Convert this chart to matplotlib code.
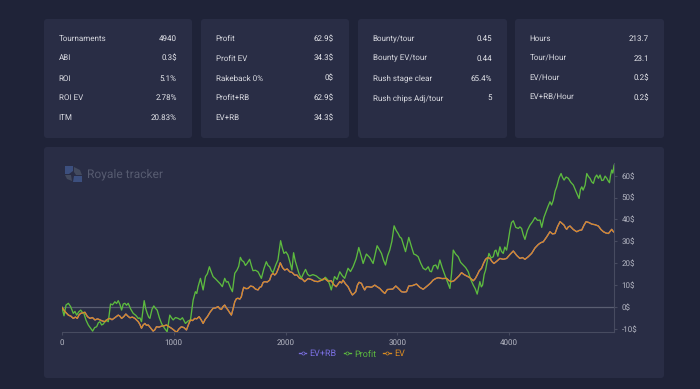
import matplotlib
matplotlib.use('Agg')
import matplotlib.pyplot as plt
from matplotlib.patches import FancyBboxPatch, Polygon

plt.rcParams['font.family'] = ['Roboto', 'DejaVu Sans']
plt.rcParams['text.hinting'] = 'no_hinting'
plt.rcParams['text.hinting_factor'] = 1

W, H = 700, 389

# stat cards
card_rows = [
    [("Tournaments", "4940"), ("ABI", "0.3$"), ("ROI", "5.1%"), ("ROI EV", "2.78%"), ("ITM", "20.83%")],
    [("Profit", "62.9$"), ("Profit EV", "34.3$"), ("Rakeback 0%", "0$"), ("Profit+RB", "62.9$"), ("EV+RB", "34.3$")],
    [("Bounty/tour", "0.45"), ("Bounty EV/tour", "0.44"), ("Rush stage clear", "65.4%"), ("Rush chips Adj/tour", "5")],
    [("Hours", "213.7"), ("Tour/Hour", "23.1"), ("EV/Hour", "0.2$"), ("EV+RB/Hour", "0.2$")],
]

# curves (tournaments, dollars)
profit_x = [0, 18, 36, 57, 77, 101, 116, 131, 150, 167, 182, 196, 215, 235, 255, 274, 292, 310, 325, 339, 354, 369,
            392, 414, 434, 452, 473, 488, 503, 518, 533, 548, 562, 577, 592, 615, 637, 660, 682, 697, 711, 735, 748,
            762, 775, 786, 805, 821, 836, 851, 870, 890, 915, 940, 964, 980, 994, 1015, 1039, 1058, 1077, 1090, 1104,
            1127, 1149, 1173, 1193, 1205, 1217, 1238, 1250, 1262, 1283, 1300, 1318, 1335, 1351, 1374, 1396, 1415,
            1434, 1455, 1470, 1485, 1505, 1524, 1545, 1565, 1580, 1595, 1610, 1625, 1640, 1655, 1678, 1693, 1708,
            1730, 1753, 1768, 1783, 1805, 1827, 1842, 1857, 1872, 1887, 1910, 1931, 1955, 1970, 1985, 2003, 2021,
            2040, 2056, 2071, 2086, 2101, 2120, 2140, 2160, 2178, 2196, 2214, 2244, 2274, 2303, 2333, 2355, 2378,
            2393, 2408, 2437, 2460, 2484, 2505, 2528, 2558, 2580, 2603, 2630, 2654, 2675, 2693, 2722, 2752, 2782,
            2800, 2818, 2838, 2857, 2875, 2893, 2912, 2931, 2950, 2970, 2988, 3006, 3021, 3036, 3055, 3072, 3101,
            3125, 3146, 3165, 3185, 3208, 3230, 3252, 3275, 3290, 3304, 3322, 3343, 3360, 3379, 3400, 3424, 3445,
            3469, 3484, 3499, 3520, 3543, 3565, 3588, 3610, 3633, 3655, 3678, 3695, 3713, 3737, 3750, 3761, 3775,
            3788, 3803, 3818, 3838, 3857, 3870, 3881, 3898, 3916, 3930, 3946, 3960, 3976, 3990, 4006, 4020, 4036,
            4058, 4081, 4095, 4110, 4125, 4140, 4162, 4185, 4208, 4230, 4252, 4275, 4290, 4310, 4328, 4345, 4364,
            4378, 4394, 4410, 4424, 4445, 4463, 4476, 4490, 4508, 4528, 4550, 4573, 4600, 4624, 4636, 4648, 4660,
            4678, 4693, 4708, 4722, 4737, 4752, 4767, 4782, 4797, 4812, 4827, 4842, 4857, 4872, 4885, 4896, 4905,
            4916, 4926, 4937]
profit_y = [-0.2, -4, 0.9, 1.7, 0.2, -2.9, -2, -3.7, -2.2, -1.4, -2.4, -2.9, -6, -8.2, -9.6, -11, -9.4, -9, -7.2, -6.7, -8.2, -7.8,
            -6, -6.7, 1.4, 1, 2.4, 1.6, 2.9, 1.2, -1.4, 1.4, 1.7, 0.8, 1.7, -1, -2.9, -3.8, -5.2, -5, -6.7, 2.9, -0.6,
            -2.9, -4.6, -5.2, -1, 0.5, -0.6, -1.4, -4.8, -7.5, -9.6, -11.3, -3.7, -5, -5.9, -4.8, -5.2, -5.8, -4.9, -6.2, -7.5,
            -6.4, -5.9, 3.2, 7, 6.2, 9.3, 13.1, 10.4, 7.8, 13.9, 15.2, 18.4, 16, 13.9, 12.8, 11.6, 10.6,
            9.3, 13.1, 11.4, 11.6, 9, 7, 15.4, 16.9, 18.6, 22.7, 21.2, 20.7, 19, 19.9, 21.8, 19, 16.6,
            16.8, 16.1, 14.6, 13.1, 17.4, 20.7, 19, 18.4, 16.6, 15.7, 19, 21.5, 30.3, 27, 24.5, 25.2, 23.7,
            20.2, 16.9, 24.8, 21, 18.4, 15.2, 13.1, 15.4, 17.2, 15, 14.2, 14.8, 14.2, 13, 12.3, 13.6, 12.3,
            10.4, 7.8, 13.9, 12.6, 16.1, 14.4, 13.1, 17.7, 16.2, 18.4, 22, 27.2, 23.4, 19.9, 24.2, 22.6, 19.9,
            24, 28, 26.2, 24.5, 21.4, 19.2, 23.4, 26, 30, 37.1, 35, 33.6, 32, 31.4, 28.2, 25.3, 31.8,
            27.6, 24.2, 23.8, 23, 20, 17.7, 17, 18.4, 16.4, 16.1, 18.8, 19.2, 17.4, 21.5, 18, 14.6, 11.8,
            8.5, 15.4, 26, 24.2, 23, 20.4, 19.2, 18, 16.1, 12.6, 10, 8.4, 5.9, 11.6, 9.2, 10, 14.8,
            16.9, 21, 24.5, 22.4, 23, 25.6, 26, 23.2, 27.5, 25.4, 24.5, 27.4, 26, 30, 35.2, 38.6, 39.4,
            36.4, 35.9, 36.6, 35.9, 33, 30.9, 35, 37.4, 39, 40.9, 39.6, 39.7, 36.4, 41, 43.5, 45.8, 48.1,
            46.6, 48.9, 53, 54.9, 59, 61, 59.2, 58, 59.4, 58.8, 57, 55.7, 52.4, 49.6, 53.6, 54.9, 53.4,
            55.7, 61, 59.6, 58.8, 57.2, 56.5, 59.2, 60.3, 58.8, 60.3, 57.8, 58, 59.8, 58.8, 57.6, 56.8, 60,
            62.6, 61.2, 64.8]

ev_x = [0, 27, 57, 80, 101, 120, 137, 152, 167, 205, 228, 250, 272, 295, 318, 339, 362, 384, 408, 429, 447, 464, 484,
        503, 518, 533, 552, 571, 590, 607, 630, 652, 668, 682, 697, 711, 726, 741, 756, 771, 793, 815, 830, 845, 868,
        890, 912, 934, 957, 979, 1002, 1024, 1046, 1068, 1090, 1113, 1131, 1149, 1168, 1187, 1205, 1226, 1244, 1262,
        1281, 1300, 1326, 1351, 1374, 1396, 1411, 1426, 1440, 1455, 1470, 1485, 1500, 1515, 1530, 1545, 1560, 1574,
        1590, 1604, 1614, 1625, 1645, 1664, 1686, 1708, 1730, 1753, 1768, 1783, 1798, 1812, 1835, 1857, 1872, 1887,
        1902, 1917, 1935, 1952, 1972, 1991, 2014, 2036, 2058, 2080, 2102, 2125, 2148, 2170, 2200, 2229, 2259, 2289,
        2318, 2348, 2378, 2408, 2430, 2452, 2484, 2500, 2513, 2535, 2558, 2578, 2597, 2612, 2627, 2642, 2657, 2678,
        2692, 2707, 2722, 2737, 2767, 2797, 2820, 2842, 2865, 2887, 2910, 2931, 2958, 2985, 3010, 3036, 3058, 3081,
        3101, 3135, 3170, 3200, 3230, 3252, 3275, 3297, 3319, 3342, 3364, 3400, 3439, 3462, 3484, 3506, 3528, 3550,
        3573, 3596, 3618, 3648, 3678, 3696, 3713, 3732, 3752, 3770, 3788, 3807, 3827, 3845, 3863, 3890, 3916, 3946,
        3976, 4006, 4036, 4066, 4095, 4118, 4140, 4170, 4200, 4230, 4260, 4282, 4304, 4334, 4364, 4386, 4409, 4432,
        4454, 4472, 4490, 4502, 4513, 4528, 4543, 4573, 4603, 4626, 4648, 4668, 4687, 4712, 4737, 4767, 4797, 4820,
        4842, 4865, 4887, 4902, 4916, 4928, 4940]
ev_y = [-0.2, -2.1, -3.7, -4.2, -5.2, -4.6, -5.2, -3.6, -2.9, -2.4, -4.4, -5.2, -4.8, -5.9, -5.4, -5.9, -6.4, -6.7, -5.6, -5.2, -5.8, -5.2, -4.4,
        -3.7, -4.2, -5.2, -4.4, -3.2, -4.2, -4.9, -4.6, -5.2, -6, -6.7, -8, -9.7, -8.2, -7.5, -8.4, -8.2, -9.6, -11, -10.4, -9, -9.2,
        -8.7, -8.6, -8.2, -9, -9.7, -10.6, -11.6, -10, -9, -9.4, -10.5, -8, -5.9, -6.2, -5.2, -5.4, -4.4, -5.8, -7.5,
        -5.6, -4.4, -2.2, -0.6, -0.4, 0.2, -0.8, -1.1, 0.2, 0.9, -0.4, -1.4, -2.6, -3.7, -0.8, 2.4, 3.8, 4,
        3.6, 4.7, 7, 9, 8.4, 8.5, 9.6, 9.3, 8.2, 7.8, 9, 9.3, 11.2, 11.6, 11.4, 12.3, 14.6, 15.4,
        14.6, 15.4, 17.6, 20.2, 18, 16.9, 17.4, 16.1, 15.8, 14.6, 14.6, 13.1, 12.8, 11.6, 13, 12.6, 11.8, 11.6,
        12.2, 13.1, 11.8, 12, 10.2, 9.3, 11.6, 11, 12.3, 10.6, 9.3, 7.2, 5.5, 6.2, 7, 10, 11.3, 10.8,
        9.2, 7.8, 9.2, 9.3, 9, 10, 9.2, 8.5, 7.2, 6.2, 8, 8.1, 8.2, 9.6, 8.4, 7, 6.8, 7,
        9.6, 9.8, 10.5, 9, 8.1, 9, 10, 11, 12.3, 13, 13.4, 13, 13.1, 12, 11.6, 12, 13.1, 14.2,
        15.7, 14.8, 14.2, 13.4, 12, 13, 14.6, 16.6, 17.7, 20, 21.8, 22.6, 22.2, 20.8, 19.9, 21, 22.2, 21.8,
        22.2, 24, 25.6, 23.6, 22.2, 22.6, 21.8, 23, 24.5, 27, 28.6, 29.4, 29.8, 32, 34.4, 33.4, 33.6, 36.8,
        39, 38.2, 37.4, 36.2, 35.5, 36.6, 37, 35.4, 34.4, 35, 35.2, 37.4, 39, 38.6, 37.9, 37.6, 37, 35.4,
        34.4, 33.8, 33.6, 34.6, 35.5, 34.6, 34.1]

x_ticks = [0, 1000, 2000, 3000, 4000]
y_ticks = [-10, 0, 10, 20, 30, 40, 50, 60]

BG = '#1f2338'
CARD = '#292d45'
GRID = '#474b60'
TICK_TEXT = '#b6b8c4'
GREEN = '#5dbb3f'
ORANGE = '#d98b22'
PURPLE = '#7a6fe0'

fig = plt.figure(figsize=(W / 100, H / 100), dpi=100, facecolor=BG)

# full figure axes in pixel coordinates for cards and text
bg = fig.add_axes([0, 0, 1, 1])
bg.set_xlim(0, W)
bg.set_ylim(H, 0)
bg.axis('off')


def card(x0, y0, x1, y1):
    bg.add_patch(FancyBboxPatch((x0 + 3, y0 + 3), x1 - x0 - 6, y1 - y0 - 6,
                                boxstyle='round,pad=3,rounding_size=3', fc=CARD, ec='none'))


card_left = [44, 201, 358, 515]
card_right = [192, 349, 507, 664]
row_y = [38.7, 58.3, 78.3, 97.7, 117.7]

for rows, left, right in zip(card_rows, card_left, card_right):
    card(left, 19, right, 138)
    for (name, val), y in zip(rows, row_y):
        bg.text(left + 14.7, y, name, color='#d8d9e0', fontsize=5.5, va='center', ha='left')
        bg.text(right - 15.2, y, val, color='#e6e7ec', fontsize=6.0, va='center', ha='right')

card(44, 147, 664, 378)

# logo + name, faded
for pts, col in [([(65, 166), (73, 166), (73, 171), (69, 174), (65, 174)], '#3c4f7e'),
                 ([(74, 167), (80, 170), (82, 175), (76, 175), (74, 172)], '#434a5e'),
                 ([(74, 176), (82, 176), (82, 182), (73, 182)], '#3c4f7e'),
                 ([(65, 175), (71, 175), (72, 181), (67, 179)], '#434a5e')]:
    bg.add_patch(Polygon(pts, closed=True, fc=col, ec='none'))
bg.text(87, 174, "Royale tracker", color='#565b70', fontsize=8.9, va='center', ha='left')

# main chart
ax_left, ax_right, ax_top, ax_bottom = 62, 614.4, 163, 332.3
ax = fig.add_axes([ax_left / W, 1 - ax_bottom / H, (ax_right - ax_left) / W, (ax_bottom - ax_top) / H])
ax.patch.set_alpha(0)
ax.set_xlim(0, 4940)
ax.set_ylim(-11.55, 65.8)

ax.axhline(0, color='#5a5e72', lw=0.9, zorder=1)
line_style = dict(lw=0.95, marker='o', ms=2.2, mew=0.5, mfc=CARD, solid_joinstyle='round')
ax.plot(ev_x, ev_y, color=PURPLE, markevery=[], label='EV+RB', zorder=2, **line_style)
ax.plot(profit_x, profit_y, color=GREEN, markevery=[], label='Profit', zorder=3, **line_style)
ax.plot(ev_x, ev_y, color=ORANGE, markevery=[], label='EV', zorder=4, **line_style)

ax.set_xticks(x_ticks)
ax.set_yticks(y_ticks)
ax.set_yticklabels([f'{v}$' for v in y_ticks])
ax.yaxis.tick_right()
ax.tick_params(axis='both', colors=GRID, labelcolor=TICK_TEXT, labelsize=6.1, length=2, width=0.8, pad=3)
for side in ['top', 'left']:
    ax.spines[side].set_visible(False)
for side in ['bottom', 'right']:
    ax.spines[side].set_color(GRID)
    ax.spines[side].set_linewidth(0.8)

handles, labels = ax.get_legend_handles_labels()
for h in handles:
    h.set_markevery(None)
leg = ax.legend(handles, labels, loc='center',
                bbox_to_anchor=((352 - ax_left) / (ax_right - ax_left), (ax_bottom - 354) / (ax_bottom - ax_top)),
                ncol=3, frameon=False, fontsize=6.2, handlelength=0.85, handletextpad=0.4, columnspacing=0.8,
                labelcolor='linecolor', numpoints=1, borderpad=0)
for h in handles:
    h.set_markevery([])

fig.savefig('out.png', dpi=100, facecolor=BG)
